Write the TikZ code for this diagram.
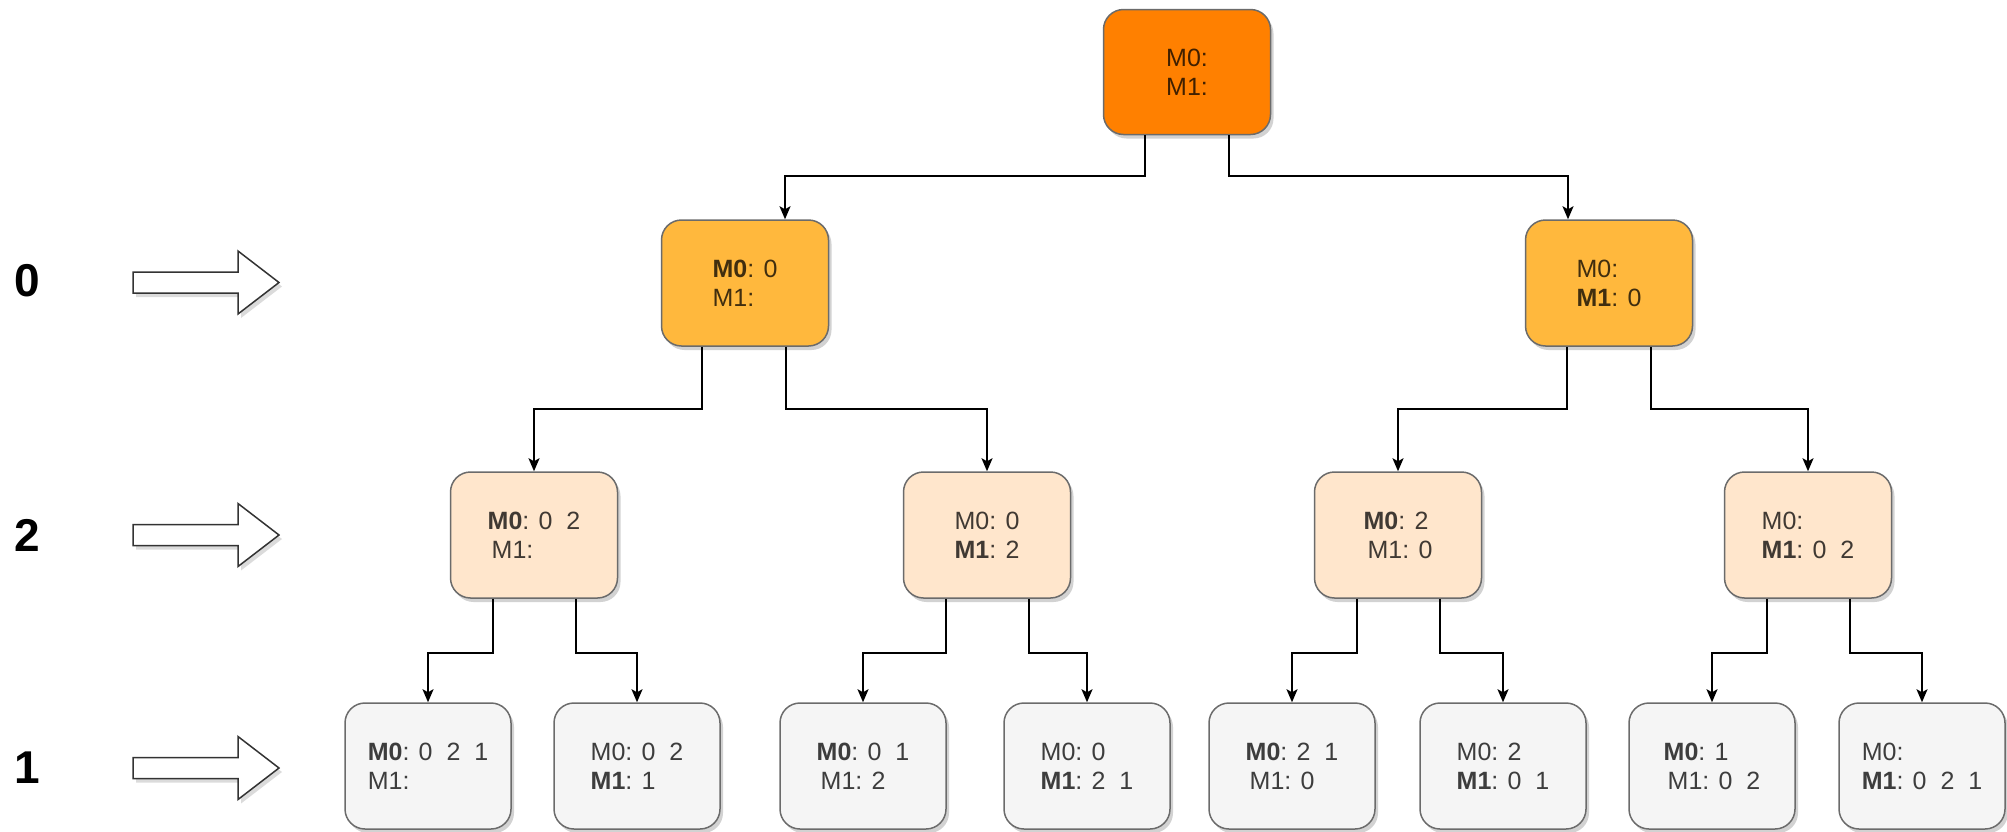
\documentclass[tikz,border=0pt]{standalone}
\usepackage{fontspec}
\setmainfont{Liberation Sans}
\usetikzlibrary{arrows.meta,shadows}
\definecolor{cRoot}{HTML}{FF8000}
\definecolor{cOne}{HTML}{FFB83D}
\definecolor{cTwo}{HTML}{FFE6CC}
\definecolor{cThree}{HTML}{F5F5F5}
\definecolor{cStroke}{HTML}{6B6B6B}
\newcommand\dsp{\hspace{0.556em}}
\newcommand\ind{\hspace{4pt}}
\tikzset{
  mbox/.style={rectangle, rounded corners=20pt, draw=cStroke, line width=1.5pt,
    minimum width=167pt, minimum height=126pt, inner sep=0pt, align=left,
    font=\fontsize{25}{29}\selectfont, text=black, text opacity=0.75,
    drop shadow={shadow xshift=3pt, shadow yshift=-4pt, opacity=0.25, fill=black!70}},
  lvroot/.style={mbox, fill=cRoot, minimum height=125pt},
  lvone/.style={mbox, fill=cOne},
  lvtwo/.style={mbox, fill=cTwo},
  lvthree/.style={mbox, fill=cThree, minimum width=166pt},
  arr/.style={draw=black, line width=1.8pt, -{Stealth[length=13pt,width=11pt,inset=3pt]}},
  lvlabel/.style={font=\fontsize{46}{50}\selectfont\bfseries, text=black, inner sep=0pt},
  blockarrow/.style={draw=black!80, line width=1.5pt, fill=white, line join=miter,
    drop shadow={shadow xshift=3pt, shadow yshift=-4pt, opacity=0.2, fill=black!70}}
}
\begin{document}
\begin{tikzpicture}[x=1pt, y=-1pt]
\useasboundingbox (0,0) rectangle (2007,831);

% level labels and block arrows
\node[lvlabel] (lab0) at (27,281) {0};
\node[lvlabel] (lab2) at (27,535) {2};
\node[lvlabel] (lab1) at (27,768) {1};
\foreach \yy in {282.5,535,768}{
  \path[blockarrow] (133,\yy-10.5) -- (238,\yy-10.5) -- (238,\yy-31.5) -- (279,\yy)
     -- (238,\yy+31.5) -- (238,\yy+10.5) -- (133,\yy+10.5) -- cycle;
}

% nodes
\node[lvroot] (r) at (1187,72) {M0:\\M1:};
\node[lvone] (a) at (745,283) {\textbf{M0}: 0\\M1:};
\node[lvone] (b) at (1609,283) {M0:\\\textbf{M1}: 0};

\node[lvtwo] (aa) at (534,535) {\textbf{M0}: 0\dsp 2\\\ind M1:};
\node[lvtwo] (ab) at (987,535) {M0: 0\\\textbf{M1}: 2};
\node[lvtwo] (ba) at (1398,535) {\textbf{M0}: 2\\\ind M1: 0};
\node[lvtwo] (bb) at (1808,535) {M0:\\\textbf{M1}: 0\dsp 2};

\node[lvthree] (aaa) at (428,766) {\textbf{M0}: 0\dsp 2\dsp 1\\M1:};
\node[lvthree] (aab) at (637,766) {M0: 0\dsp 2\\\textbf{M1}: 1};
\node[lvthree] (aba) at (863,766) {\textbf{M0}: 0\dsp 1\\\ind M1: 2};
\node[lvthree] (abb) at (1087,766) {M0: 0\\\textbf{M1}: 2\dsp 1};
\node[lvthree] (baa) at (1292,766) {\textbf{M0}: 2\dsp 1\\\ind M1: 0};
\node[lvthree] (bab) at (1503,766) {M0: 2\\\textbf{M1}: 0\dsp 1};
\node[lvthree] (bba) at (1712,766) {\textbf{M0}: 1\\\ind M1: 0\dsp 2};
\node[lvthree] (bbb) at (1922,766) {M0:\\\textbf{M1}: 0\dsp 2\dsp 1};

% connectors root -> level 1
\draw[arr] ([xshift=-42pt]r.south) -- ++(0,40.5) -| ([xshift=40pt]a.north);
\draw[arr] ([xshift=42pt]r.south) -- ++(0,40.5) -| ([xshift=-41pt]b.north);

% level 1 -> level 2
\draw[arr] ([xshift=-43pt]a.south) -- ++(0,62) -| (aa.north);
\draw[arr] ([xshift=41pt]a.south) -- ++(0,62) -| (ab.north);
\draw[arr] ([xshift=-42pt]b.south) -- ++(0,62) -| (ba.north);
\draw[arr] ([xshift=42pt]b.south) -- ++(0,62) -| (bb.north);

% level 2 -> level 3
\foreach \p/\l/\rr in {aa/aaa/aab, ab/aba/abb, ba/baa/bab, bb/bba/bbb}{
  \draw[arr] ([xshift=-41pt]\p.south) -- ++(0,54) -| (\l.north);
  \draw[arr] ([xshift=42pt]\p.south) -- ++(0,54) -| (\rr.north);
}
\end{tikzpicture}
\end{document}
